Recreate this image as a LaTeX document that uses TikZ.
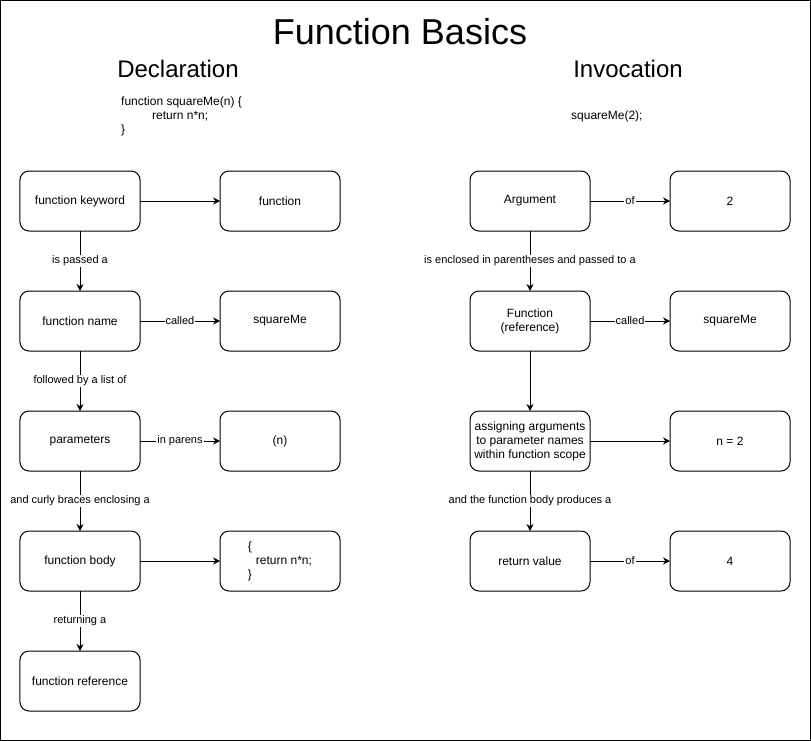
\documentclass[tikz,border=0pt]{standalone}
\usepackage{fontspec}
\setmainfont{Liberation Sans}
\usetikzlibrary{arrows.meta,positioning}
\tikzset{
>=Stealth,
node distance=60bp and 80bp,
box node/.style={draw,rounded corners=9bp,line width=1bp,outer sep=0pt,minimum width=120bp,minimum height=60bp,align=center,inner sep=2bp,font=\fontsize{12bp}{14bp}\selectfont},
freccia/.style={->,line width=1bp,>={Stealth[length=7bp,width=7bp]}},
etichetta/.style={fill=white,inner sep=1bp,font=\fontsize{11bp}{13bp}\selectfont}}

\begin{document}
\begin{tikzpicture}[x=1bp,y=-1bp]

\useasboundingbox (0,0) rectangle (811,741);
\draw[line width=1bp] (0.5,0.5) rectangle (810.5,740.5);

% titles
\node (title) at (400,32) {\fontsize{36bp}{40bp}\selectfont Function Basics};
\node (decl) at (178,69) {\fontsize{24bp}{28bp}\selectfont Declaration};
\node (inv) at (628,69) {\fontsize{24bp}{28bp}\selectfont Invocation};
\node[anchor=west,align=left,inner sep=0pt,font=\fontsize{12bp}{14bp}\selectfont] (code) at (121,116)
  {function squareMe(n) \{\\\hspace{31bp}return n*n;\\\}};
\node[anchor=west,inner sep=0pt,font=\fontsize{12bp}{14bp}\selectfont] (call) at (571,116) {squareMe(2);};

% declaration
\node[box node] (d1) at (80,201) {function keyword};
\node[box node,below=of d1] (d2) {function name};
\node[box node,below=of d2] (d3) {parameters};
\node[box node,below=of d3] (d4) {function body};
\node[box node,below=of d4] (d5) {function reference};

\node[box node,right=of d1] (d1r) {function};
\node[box node,right=of d2] (d2r) {squareMe};
\node[box node,right=of d3] (d3r) {(n)};
\node[box node,right=of d4,align=left] (d4r) {\{\\\hspace{8bp}return n*n;\\\}};

\path[freccia] (d1) edge node[etichetta] {is passed a} (d2);
\path[freccia] (d2) edge node[etichetta] {followed by a list of} (d3);
\path[freccia] (d3) edge node[etichetta] {and curly braces enclosing a} (d4);
\path[freccia] (d4) edge node[etichetta] {returning a} (d5);

\path[freccia] (d1) edge (d1r);
\path[freccia] (d2) edge node[etichetta] {called} (d2r);
\path[freccia] (d3) edge node[etichetta] {in parens} (d3r);
\path[freccia] (d4) edge (d4r);

% invocation
\node[box node] (i1) at (530,201) {Argument};
\node[box node,below=of i1] (i2) {Function\\(reference)};
\node[box node,below=of i2] (i3) {assigning arguments\\to parameter names\\within function scope};
\node[box node,below=of i3] (i4) {return value};

\node[box node,right=of i1] (i1r) {2};
\node[box node,right=of i2] (i2r) {squareMe};
\node[box node,right=of i3] (i3r) {n = 2};
\node[box node,right=of i4] (i4r) {4};

\path[freccia] (i1) edge node[etichetta] {is enclosed in parentheses and passed to a} (i2);
\path[freccia] (i2) edge (i3);
\path[freccia] (i3) edge node[etichetta] {and the function body produces a} (i4);

\path[freccia] (i1) edge node[etichetta] {of} (i1r);
\path[freccia] (i2) edge node[etichetta] {called} (i2r);
\path[freccia] (i3) edge (i3r);
\path[freccia] (i4) edge node[etichetta] {of} (i4r);

\end{tikzpicture}
\end{document}
